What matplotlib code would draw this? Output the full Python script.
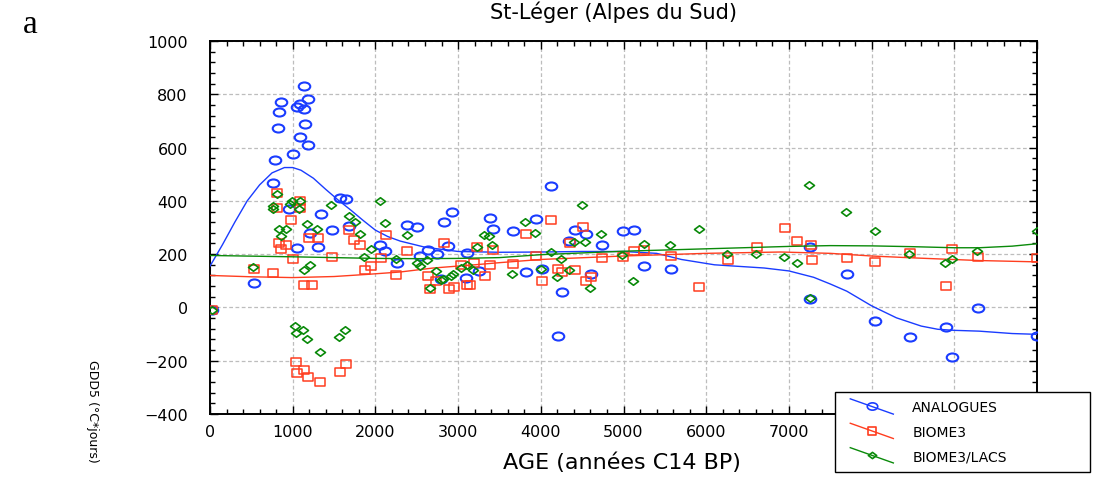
import numpy as np
import matplotlib
matplotlib.use('Agg')
import matplotlib.pyplot as plt
from matplotlib.path import Path
from matplotlib.lines import Line2D
from matplotlib.legend_handler import HandlerLine2D
from matplotlib.ticker import MultipleLocator

# --- données (âge C14 BP, GDD5) ---
ana_x = [20, 537, 767, 788, 820, 840, 861, 961, 998, 1051, 1091, 1131, 1131, 1184, 1151, 1091, 1184,
         1051, 1212, 1301, 1342, 1475, 1567, 1645, 1685, 2060, 2121, 2262, 2388, 2505, 2545, 2638,
         2739, 2788, 2828, 2881, 2929, 3091, 3111, 3250, 3385, 3426, 3669, 3818, 3939, 4012, 4129,
         4202, 4262, 4343, 4416, 4545, 4606, 4739, 4990, 5123, 5252, 5575, 7250, 7260, 7698, 8044,
         8463, 8898, 8975, 9282, 10000]
ana_y = [-8, 93, 466, 555, 674, 733, 772, 370, 577, 752, 762, 830, 746, 783, 690, 639, 609,
         224, 280, 228, 349, 290, 412, 408, 305, 236, 211, 165, 311, 303, 193, 215,
         199, 105, 320, 230, 358, 111, 203, 136, 337, 293, 286, 134, 333, 146, 455,
         -108, 57, 249, 290, 274, 124, 234, 286, 290, 155, 143, 228, 30, 125, -51,
         -111, -72, -186, -1, -108]

bio_x = [20, 537, 767, 808, 816, 836, 861, 921, 978, 998, 1091, 1091, 1139, 1192, 1232, 1301, 1475,
         1685, 1745, 1818, 1870, 1947, 2064, 2125, 2254, 2384, 2638, 2666, 2727, 2828, 2888, 2949,
         3030, 3111, 3143, 3191, 3232, 3321, 3385, 3422, 3669, 3826, 3939, 4012, 4129, 4202, 4262,
         4355, 4416, 4512, 4545, 4606, 4739, 4990, 5123, 5252, 5575, 5918, 6262, 6614, 6948, 7102,
         7264, 7281, 7698, 8044, 8463, 8898, 8975, 9282, 10000,
         1034, 1051, 1131, 1184, 1333, 1567, 1645]
bio_y = [-8, 143, 130, 374, 430, 243, 218, 236, 328, 180, 399, 374, 84, 261, 86, 261, 189,
         290, 253, 236, 140, 155, 184, 270, 120, 211, 118, 68, 99, 243, 70, 76,
         161, 86, 86, 165, 228, 118, 161, 215, 164, 274, 193, 101, 328, 146, 132,
         243, 140, 303, 101, 115, 184, 190, 210, 215, 193, 76, 177, 228, 299, 249,
         236, 177, 186, 171, 203, 80, 218, 190, 186,
         -205, -245, -233, -262, -280, -241, -211]

lac_x = [20, 525, 760, 767, 816, 836, 857, 921, 970, 990, 1079, 1091, 1139, 1172, 1212, 1293, 1463,
         1676, 1749, 1810, 1867, 1947, 2060, 2113, 2254, 2384, 2505, 2545, 2626, 2666, 2727, 2788,
         2820, 2909, 2937, 3030, 3111, 3184, 3224, 3313, 3373, 3414, 3657, 3810, 3927, 4008, 4121,
         4194, 4250, 4343, 4404, 4497, 4537, 4597, 4727, 4982, 5111, 5244, 5567, 5911, 6254, 6597,
         6941, 7099, 7245, 7260, 7690, 8036, 8455, 8886, 8967, 9270, 10000,
         1022, 1039, 1123, 1172, 1333, 1555, 1636]
lac_y = [-8, 153, 368, 380, 424, 293, 268, 295, 390, 401, 368, 399, 139, 314, 159, 296, 386,
         343, 321, 275, 190, 220, 401, 316, 183, 271, 168, 155, 177, 74, 136, 102,
         108, 118, 124, 149, 161, 140, 226, 270, 268, 234, 124, 322, 280, 146, 208,
         115, 183, 140, 246, 386, 246, 74, 274, 195, 101, 239, 236, 293, 199, 199,
         190, 165, 458, 34, 359, 288, 199, 165, 180, 211, 285,
         -70, -95, -83, -120, -168, -111, -83]

# courbes d'ajustement (lues point par point)
fit_ana_x = [0, 150, 300, 450, 600, 750, 900, 1000, 1100, 1250, 1400, 1550, 1700, 1850, 2000, 2150,
             2300, 2600, 3000, 3500, 4000, 4500, 5000, 5400, 5700, 6100, 6700, 7000, 7300, 7500,
             7700, 8000, 8300, 8600, 8800, 9000, 9300, 9700, 10000]
fit_ana_y = [155, 235, 320, 400, 460, 505, 525, 525, 515, 485, 443, 403, 366, 327, 290, 266,
             249, 226, 210, 207, 208, 210, 210, 203, 180, 160, 148, 137, 113, 88,
             61, 6, -39, -70, -82, -86, -89, -98, -101]
fit_bio_x = [0, 500, 1000, 1500, 1900, 2300, 2700, 3200, 3500, 4000, 5000, 6000, 6900, 7500,
             8000, 8500, 9300, 10000]
fit_bio_y = [120, 115, 112, 116, 124, 133, 148, 160, 168, 180, 193, 203, 208, 203,
             193, 186, 176, 171]
fit_lac_x = [0, 1000, 2000, 2500, 3000, 3500, 4000, 5000, 6000, 7000, 7500, 8000, 8500, 9000,
             9300, 9700, 10000]
fit_lac_y = [195, 190, 184, 183, 184, 187, 198, 211, 220, 229, 232, 231, 228, 224,
             224, 230, 239]

labels = ['ANALOGUES', 'BIOME3', 'BIOME3/LACS']
colors = ['#1a3cff', '#ff3d1f', '#0a8a0a']
xtick_vals = list(range(0, 10001, 1000))
xtick_text = ['0', '1000', '2000', '3000', '4000', '5000', '6000', '7000', '', '', '']


def ellipse(sx, sy):
    c = Path.unit_circle()
    return Path(c.vertices * [sx, sy], c.codes)


def rect(r):
    return Path([(-1, -r), (1, -r), (1, r), (-1, r), (-1, -r)], closed=True)


def diamond(r):
    return Path([(0, r), (1, 0), (0, -r), (-1, 0), (0, r)], closed=True)


markers = [ellipse(1, 0.7), rect(0.85), diamond(0.75)]


class SlantHandler(HandlerLine2D):
    # ligne de légende en biais avec le symbole au milieu
    def create_artists(self, legend, orig_handle, xdescent, ydescent, width, height, fontsize, trans):
        x0, x1 = -xdescent + 5, -xdescent + width
        ym = (height - ydescent) / 2
        d = 5.5
        line = Line2D([x0, x1], [ym + d, ym - d])
        self.update_prop(line, orig_handle, legend)
        line.set_marker('None')
        mk = Line2D([(x0 + x1) / 2], [ym])
        self.update_prop(mk, orig_handle, legend)
        mk.set_linestyle('None')
        line.set_transform(trans)
        mk.set_transform(trans)
        return [line, mk]


plt.rcParams['font.family'] = 'DejaVu Sans'
W, H = 1105, 481
fig = plt.figure(figsize=(W / 100, H / 100), dpi=100)
ax = fig.add_axes([210 / W, 1 - 415 / H, (1037 - 210) / W, (415 - 42) / H])

series = [(ana_x, ana_y, fit_ana_x, fit_ana_y), (bio_x, bio_y, fit_bio_x, fit_bio_y),
          (lac_x, lac_y, fit_lac_x, fit_lac_y)]
sizes = [8.3, 6.8, 7.2]
mews = [1.5, 1.1, 1.2]
for i, (px, py, fx, fy) in enumerate(series):
    ax.plot(px, py, linestyle='None', marker=markers[i], markersize=sizes[i],
            markerfacecolor='none', markeredgecolor=colors[i], markeredgewidth=mews[i], zorder=3 + i)
    ax.plot(fx, fy, color=colors[i], linewidth=1.0, zorder=3 + i)

ax.set_xlim(0, 10000)
ax.set_ylim(-400, 1000)
ax.set_xticks(xtick_vals, xtick_text)
ax.xaxis.set_minor_locator(MultipleLocator(200))
ax.yaxis.set_major_locator(MultipleLocator(200))
ax.yaxis.set_minor_locator(MultipleLocator(40))
ax.tick_params(which='both', direction='in', top=True, right=True, width=1, colors='black')
ax.tick_params(which='major', length=6)
ax.tick_params(which='minor', length=3.5)
ax.tick_params(axis='x', which='major', labelsize=11.5, pad=7)
ax.tick_params(axis='y', which='major', labelsize=11.5, pad=16)
ax.grid(True, which='major', color='#bdbdbd', linestyle=(0, (3, 2)), linewidth=0.9)
for s in ax.spines.values():
    s.set_linewidth(1.4)

fig.text(614 / W, 1 - 12 / H, 'St-Léger (Alpes du Sud)', fontsize=15, ha='center', va='center')
fig.text(622 / W, 1 - 463 / H, 'AGE (années C14 BP)', fontsize=16, ha='center', va='center')
fig.text(30 / W, 1 - 25 / H, 'a', family='Liberation Serif', fontsize=24, ha='center', va='center')
fig.text(92 / W, 1 - 360 / H, 'GDD5 (°C*jours)', fontsize=9, rotation=270, ha='center', va='top')

handles = [Line2D([], [], color=colors[i], linewidth=1.0, marker=markers[i], markersize=s,
                  markerfacecolor='none', markeredgecolor=colors[i], markeredgewidth=1.2)
           for i, s in enumerate([7.5, 6.0, 6.0])]
leg = fig.legend(handles, labels, loc='upper left',
                 bbox_to_anchor=(835 / W, 1 - 393 / H, 255 / W, 0.0), mode='expand',
                 fontsize=10, frameon=True, fancybox=False, framealpha=1, edgecolor='black',
                 borderpad=0.6, labelspacing=0.75, handlelength=3.6, handletextpad=1.37,
                 borderaxespad=0, handler_map={Line2D: SlantHandler()})
leg.get_frame().set_linewidth(1.0)

fig.savefig('out.png', dpi=100)
